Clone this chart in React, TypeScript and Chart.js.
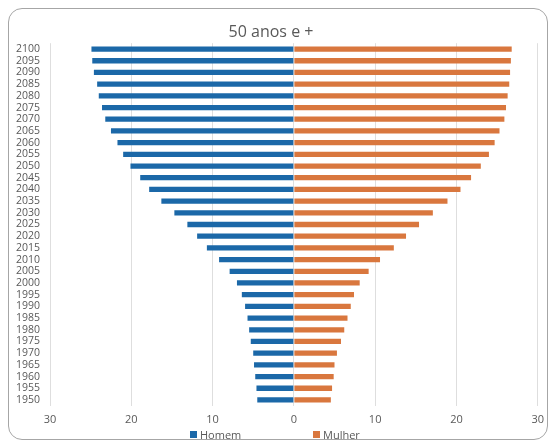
import React, { useEffect, useRef } from "react";
import { Chart, registerables } from "chart.js";

Chart.register(...registerables);

const years: string[] = [
  "1950", "1955", "1960", "1965", "1970", "1975", "1980", "1985", "1990", "1995",
  "2000", "2005", "2010", "2015", "2020", "2025", "2030", "2035", "2040", "2045",
  "2050", "2055", "2060", "2065", "2070", "2075", "2080", "2085", "2090", "2095", "2100",
];

const homem: number[] = [
  4.5, 4.6, 4.75, 4.9, 5.0, 5.3, 5.5, 5.7, 6.0, 6.4,
  7.0, 7.9, 9.2, 10.7, 11.9, 13.1, 14.7, 16.3, 17.8, 18.9,
  20.1, 21.0, 21.7, 22.5, 23.2, 23.6, 24.0, 24.2, 24.6, 24.8, 24.9,
];

const mulher: number[] = [
  4.55, 4.7, 4.9, 5.0, 5.3, 5.8, 6.2, 6.6, 7.0, 7.4,
  8.1, 9.2, 10.6, 12.3, 13.8, 15.4, 17.1, 18.9, 20.5, 21.8,
  23.0, 24.0, 24.7, 25.3, 25.9, 26.1, 26.3, 26.5, 26.6, 26.7, 26.8,
];

const seriesNames: string[] = ["Homem", "Mulher"];
const seriesColors: string[] = ["#1B68A8", "#D9773E"];
const titleText = "50 anos e +";
const FONT = "'Open Sans', 'DejaVu Sans', sans-serif";

export default function App() {
  const ref = useRef<HTMLCanvasElement | null>(null);

  useEffect(() => {
    if (!ref.current) return;
    const chart = new Chart(ref.current, {
      type: "bar",
      data: {
        labels: years,
        datasets: [
          {
            label: seriesNames[0],
            data: homem.map((v) => -v),
            backgroundColor: seriesColors[0],
            barPercentage: 0.45,
            categoryPercentage: 1,
          },
          {
            label: seriesNames[1],
            data: mulher,
            backgroundColor: seriesColors[1],
            barPercentage: 0.45,
            categoryPercentage: 1,
          },
        ],
      },
      options: {
        indexAxis: "y",
        responsive: false,
        animation: false,
        layout: { padding: { top: 12, bottom: 10, left: 0, right: 9 } },
        plugins: {
          legend: { display: false },
          tooltip: { enabled: false },
          title: {
            display: true,
            text: titleText,
            color: "#595959",
            font: { family: FONT, size: 16, weight: "normal" },
            padding: { top: 11, bottom: 1 },
          },
        },
        scales: {
          x: {
            stacked: true,
            min: -30,
            max: 30,
            ticks: {
              stepSize: 10,
              color: "#595959",
              font: { family: FONT, size: 11 },
              padding: 7,
              callback: (v: any) => String(Math.abs(Number(v))),
            },
            grid: { color: "#dedede", drawTicks: false },
            border: { display: false },
          },
          y: {
            stacked: true,
            reverse: true,
            ticks: {
              color: "#595959",
              font: { family: FONT, size: 10.5 },
              padding: 10,
              autoSkip: false,
            },
            grid: { display: false, drawTicks: false },
            border: { display: false },
            afterFit: (scale: any) => {
              scale.width = 50;
            },
          },
        },
      },
    });
    return () => chart.destroy();
  }, []);

  const legendItem = (i: number, left: number) => (
    <div
      key={i}
      style={{
        position: "absolute",
        left,
        top: 427,
        height: 14,
        display: "flex",
        alignItems: "center",
        fontFamily: FONT,
        fontSize: 11,
        color: "#595959",
        whiteSpace: "nowrap",
      }}
    >
      <span
        style={{
          display: "inline-block",
          width: 7,
          height: 7,
          background: seriesColors[i],
          marginRight: 3,
        }}
      />
      {seriesNames[i]}
    </div>
  );

  return (
    <div style={{ position: "absolute", left: 0, top: 0, width: 551, height: 443, overflow: "hidden", background: "#fff" }}>
      <div
        style={{
          position: "absolute",
          left: 8,
          top: 8,
          width: 540,
          height: 432,
          border: "1px solid #a6a6a6",
          borderRadius: 14,
          boxSizing: "border-box",
        }}
      />
      <canvas ref={ref} width={551} height={443} style={{ position: "absolute", left: 0, top: 0 }} />
      {legendItem(0, 190)}
      {legendItem(1, 313)}
    </div>
  );
}
